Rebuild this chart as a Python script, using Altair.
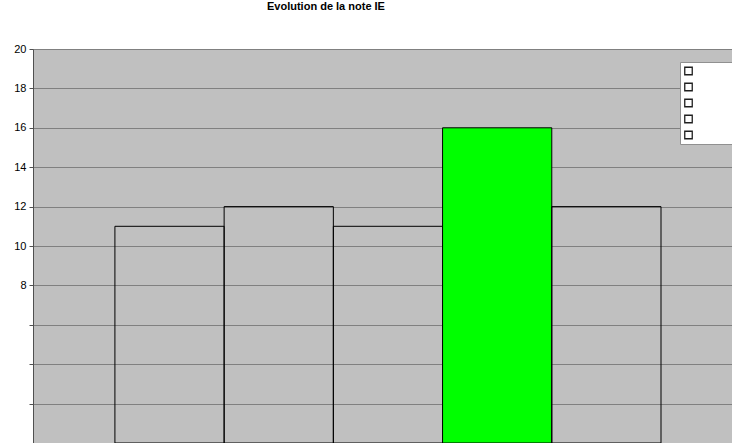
import altair as alt
import pandas as pd

# Successive IE grades (out of 20)
seances = ["IE 1", "IE 2", "IE 3", "IE 4", "IE 5"]
notes = [11, 12, 11, 16, 12]
meilleure = "IE 4"
graduations = [0, 2, 4, 6, 8, 10, 12, 14, 16, 18, 20]

df = pd.DataFrame({"seance": seances, "note": notes, "rang": list(range(len(seances)))})

FONT = "Liberation Sans"
GRID = "#808080"

x_scale = alt.Scale(domain=[-0.75, 5.65], nice=False, zero=False, padding=0)
y_scale = alt.Scale(domain=[0, 20], nice=False, padding=0)

barres = (
    alt.Chart(df)
    .transform_calculate(fin="datum.rang + 1")
    .mark_bar(stroke="black", strokeWidth=1, opacity=1, orient="vertical")
    .encode(
        x=alt.X("rang:Q", scale=x_scale, axis=None),
        x2="fin:Q",
        y=alt.Y(
            "note:Q",
            scale=y_scale,
            axis=alt.Axis(
                values=graduations,
                labelExpr="datum.value >= 8 ? datum.label : ''",
                title=None,
                grid=True,
                gridColor=GRID,
                gridWidth=1,
                gridOpacity=1,
                domainColor="#505050",
                tickColor="#505050",
                tickSize=4,
                labelFont=FONT,
                labelFontSize=11,
                labelColor="black",
                labelPadding=3,
            ),
        ),
        y2=alt.datum(0),
        fill=alt.condition(
            alt.datum.seance == meilleure, alt.value("#00ff00"), alt.value("transparent")
        ),
    )
)

# Series key: one empty square per grade, entry text left blank
legende = (
    alt.Chart(df)
    .mark_square(stroke="black", strokeWidth=1, opacity=1, clip=True)
    .encode(
        x=alt.value(-100),
        y=alt.value(-100),
        color=alt.Color(
            "seance:N",
            scale=alt.Scale(domain=seances, range=["white"] * len(seances)),
            legend=alt.Legend(
                title=None,
                orient="none",
                legendX=647,
                legendY=13,
                labelExpr="'\u00a0\u00a0\u00a0\u00a0\u00a0\u00a0\u00a0\u00a0\u00a0\u00a0\u00a0\u00a0\u00a0\u00a0\u00a0\u00a0'",
                labelOffset=40,
                symbolType="square",
                symbolSize=56,
                symbolStrokeColor="#202020",
                symbolStrokeWidth=1.3,
                symbolOpacity=1,
                fillColor="white",
                strokeColor="#909090",
                padding=3,
                rowPadding=4,
                clipHeight=12,
                labelFont=FONT,
                labelFontSize=11,
                labelLimit=200,
                cornerRadius=0,
            ),
        ),
    )
)

chart = (
    alt.layer(barres, legende)
    .properties(
        width=699,
        height=394,
        autosize=alt.AutoSizeParams(type="none"),
        padding={"left": 33, "top": 49, "right": 0, "bottom": 0},
        background="white",
        title=alt.TitleParams(
            "Evolution de la note IE",
            font=FONT,
            fontSize=11,
            fontWeight="bold",
            color="black",
            anchor="start",
            frame="group",
            dx=234,
            offset=31,
        ),
    )
    .configure_view(fill="#c0c0c0", stroke=None)
)

chart.save("out.html", embed_options={"renderer": "svg", "actions": False})
